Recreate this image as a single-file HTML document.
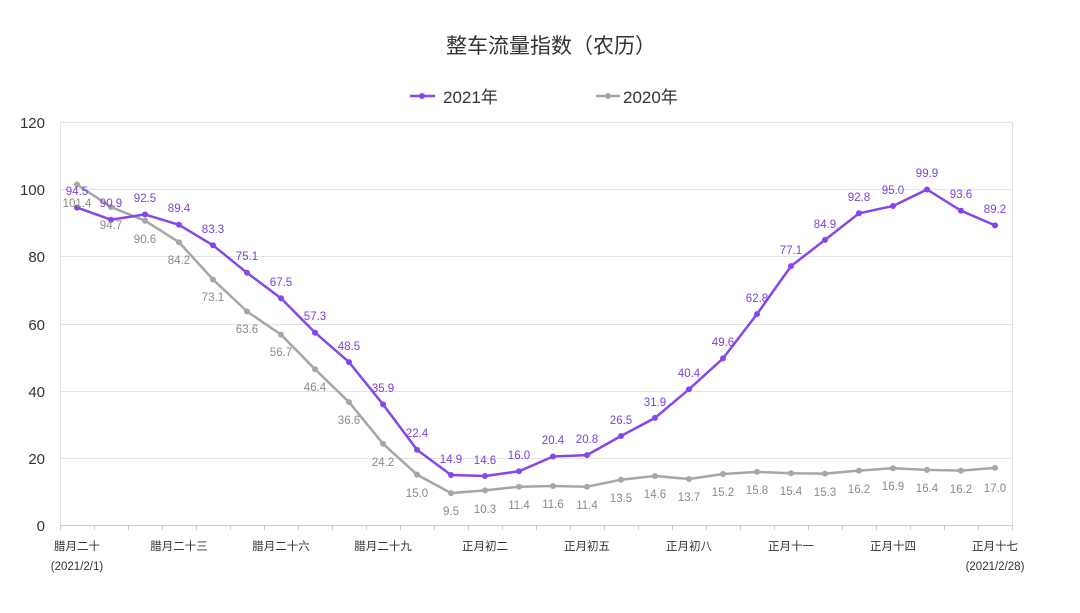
<!DOCTYPE html>
<html><head><meta charset="utf-8"><style>
html,body{margin:0;padding:0;background:#fff}
svg{display:block;font-family:"Liberation Sans","Noto Sans CJK SC",sans-serif}
</style></head><body>
<svg width="1080" height="613" viewBox="0 0 1080 613">
<text x="551" y="53" text-anchor="middle" font-size="21" fill="#333">整车流量指数（农历）</text>
<line x1="410" y1="96" x2="435" y2="96" stroke="#8547e8" stroke-width="2.5"/><circle cx="422" cy="96" r="3" fill="#8547e8"/>
<text x="443" y="103" font-size="17" fill="#333">2021年</text>
<line x1="596" y1="96" x2="620" y2="96" stroke="#a6a6a6" stroke-width="2.5"/><circle cx="608" cy="96" r="3" fill="#a6a6a6"/>
<text x="623" y="103" font-size="17" fill="#333">2020年</text>
<g stroke="#e3e3e3" stroke-width="1">
<line x1="60" y1="122.5" x2="1012" y2="122.5"/><line x1="60" y1="189.5" x2="1012" y2="189.5"/><line x1="60" y1="256.5" x2="1012" y2="256.5"/><line x1="60" y1="324.5" x2="1012" y2="324.5"/><line x1="60" y1="391.5" x2="1012" y2="391.5"/><line x1="60" y1="458.5" x2="1012" y2="458.5"/>
<line x1="60.5" y1="122" x2="60.5" y2="525"/><line x1="1012.5" y1="122" x2="1012.5" y2="525"/>
</g>
<line x1="60" y1="525.5" x2="1012" y2="525.5" stroke="#ccc"/>
<g stroke="#ccc" id="ticks">
<line x1="60.5" y1="525" x2="60.5" y2="530"/><line x1="94.5" y1="525" x2="94.5" y2="530"/><line x1="128.5" y1="525" x2="128.5" y2="530"/><line x1="162.5" y1="525" x2="162.5" y2="530"/><line x1="196.5" y1="525" x2="196.5" y2="530"/><line x1="230.5" y1="525" x2="230.5" y2="530"/><line x1="264.5" y1="525" x2="264.5" y2="530"/><line x1="298.5" y1="525" x2="298.5" y2="530"/><line x1="332.5" y1="525" x2="332.5" y2="530"/><line x1="366.5" y1="525" x2="366.5" y2="530"/><line x1="400.5" y1="525" x2="400.5" y2="530"/><line x1="434.5" y1="525" x2="434.5" y2="530"/><line x1="468.5" y1="525" x2="468.5" y2="530"/><line x1="502.5" y1="525" x2="502.5" y2="530"/><line x1="536.5" y1="525" x2="536.5" y2="530"/><line x1="570.5" y1="525" x2="570.5" y2="530"/><line x1="604.5" y1="525" x2="604.5" y2="530"/><line x1="638.5" y1="525" x2="638.5" y2="530"/><line x1="672.5" y1="525" x2="672.5" y2="530"/><line x1="706.5" y1="525" x2="706.5" y2="530"/><line x1="740.5" y1="525" x2="740.5" y2="530"/><line x1="774.5" y1="525" x2="774.5" y2="530"/><line x1="808.5" y1="525" x2="808.5" y2="530"/><line x1="842.5" y1="525" x2="842.5" y2="530"/><line x1="876.5" y1="525" x2="876.5" y2="530"/><line x1="910.5" y1="525" x2="910.5" y2="530"/><line x1="944.5" y1="525" x2="944.5" y2="530"/><line x1="978.5" y1="525" x2="978.5" y2="530"/><line x1="1012.5" y1="525" x2="1012.5" y2="530"/>
</g>
<g font-size="15" fill="#333" text-anchor="end">
<text x="45" y="128">120</text><text x="45" y="195">100</text><text x="45" y="262">80</text><text x="45" y="330">60</text><text x="45" y="397">40</text><text x="45" y="464">20</text><text x="45" y="531">0</text>
</g>
<g font-size="11.5" fill="#333" text-anchor="middle">
<text x="77" y="550">腊月二十</text><text x="179" y="550">腊月二十三</text><text x="281" y="550">腊月二十六</text><text x="383" y="550">腊月二十九</text><text x="485" y="550">正月初二</text><text x="587" y="550">正月初五</text><text x="689" y="550">正月初八</text><text x="791" y="550">正月十一</text><text x="893" y="550">正月十四</text><text x="995" y="550">正月十七</text>
<text x="77" y="570">(2021/2/1)</text><text x="995" y="570">(2021/2/28)</text>
</g>
<polyline fill="none" stroke="#a6a6a6" stroke-width="2.5" stroke-linejoin="round" points="77,184.5 111,207 145,220.7 179,242.2 213,279.5 247,311.4 281,334.6 315,369.2 349,402.1 383,443.7 417,474.6 451,493.1 485,490.4 519,486.7 553,486 587,486.7 621,479.7 655,476 689,479 723,474 757,471.9 791,473.3 825,473.6 859,470.6 893,468.2 927,469.9 961,470.6 995,467.9"/>
<g fill="#a6a6a6">
<circle cx="77" cy="184.5" r="3"/><circle cx="111" cy="207" r="3"/><circle cx="145" cy="220.7" r="3"/><circle cx="179" cy="242.2" r="3"/><circle cx="213" cy="279.5" r="3"/><circle cx="247" cy="311.4" r="3"/><circle cx="281" cy="334.6" r="3"/><circle cx="315" cy="369.2" r="3"/><circle cx="349" cy="402.1" r="3"/><circle cx="383" cy="443.7" r="3"/><circle cx="417" cy="474.6" r="3"/><circle cx="451" cy="493.1" r="3"/><circle cx="485" cy="490.4" r="3"/><circle cx="519" cy="486.7" r="3"/><circle cx="553" cy="486" r="3"/><circle cx="587" cy="486.7" r="3"/><circle cx="621" cy="479.7" r="3"/><circle cx="655" cy="476" r="3"/><circle cx="689" cy="479" r="3"/><circle cx="723" cy="474" r="3"/><circle cx="757" cy="471.9" r="3"/><circle cx="791" cy="473.3" r="3"/><circle cx="825" cy="473.6" r="3"/><circle cx="859" cy="470.6" r="3"/><circle cx="893" cy="468.2" r="3"/><circle cx="927" cy="469.9" r="3"/><circle cx="961" cy="470.6" r="3"/><circle cx="995" cy="467.9" r="3"/>
</g>
<polyline fill="none" stroke="#8547e8" stroke-width="2.5" stroke-linejoin="round" points="77,207.6 111,219.7 145,214.4 179,224.8 213,245.3 247,272.8 281,298.3 315,332.6 349,362.1 383,404.4 417,449.8 451,475 485,476 519,471.3 553,456.5 587,455.1 621,436 655,417.9 689,389.3 723,358.4 757,314.1 791,266.1 825,239.9 859,213.3 893,206 927,189.5 961,210.7 995,225.4"/>
<g fill="#8547e8">
<circle cx="77" cy="207.6" r="3"/><circle cx="111" cy="219.7" r="3"/><circle cx="145" cy="214.4" r="3"/><circle cx="179" cy="224.8" r="3"/><circle cx="213" cy="245.3" r="3"/><circle cx="247" cy="272.8" r="3"/><circle cx="281" cy="298.3" r="3"/><circle cx="315" cy="332.6" r="3"/><circle cx="349" cy="362.1" r="3"/><circle cx="383" cy="404.4" r="3"/><circle cx="417" cy="449.8" r="3"/><circle cx="451" cy="475" r="3"/><circle cx="485" cy="476" r="3"/><circle cx="519" cy="471.3" r="3"/><circle cx="553" cy="456.5" r="3"/><circle cx="587" cy="455.1" r="3"/><circle cx="621" cy="436" r="3"/><circle cx="655" cy="417.9" r="3"/><circle cx="689" cy="389.3" r="3"/><circle cx="723" cy="358.4" r="3"/><circle cx="757" cy="314.1" r="3"/><circle cx="791" cy="266.1" r="3"/><circle cx="825" cy="239.9" r="3"/><circle cx="859" cy="213.3" r="3"/><circle cx="893" cy="206" r="3"/><circle cx="927" cy="189.5" r="3"/><circle cx="961" cy="210.7" r="3"/><circle cx="995" cy="225.4" r="3"/>
</g>
<g font-size="11.5" fill="#8a8a8a" text-anchor="middle">
<text x="77" y="207">101.4</text><text x="111" y="229">94.7</text><text x="145" y="243">90.6</text><text x="179" y="264">84.2</text><text x="213" y="301">73.1</text><text x="247" y="333">63.6</text><text x="281" y="356">56.7</text><text x="315" y="391">46.4</text><text x="349" y="424">36.6</text><text x="383" y="466">24.2</text><text x="417" y="497">15.0</text><text x="451" y="515">9.5</text><text x="485" y="513">10.3</text><text x="519" y="509">11.4</text><text x="553" y="508">11.6</text><text x="587" y="509">11.4</text><text x="621" y="502">13.5</text><text x="655" y="498">14.6</text><text x="689" y="501">13.7</text><text x="723" y="496">15.2</text><text x="757" y="494">15.8</text><text x="791" y="495">15.4</text><text x="825" y="496">15.3</text><text x="859" y="493">16.2</text><text x="893" y="490">16.9</text><text x="927" y="492">16.4</text><text x="961" y="493">16.2</text><text x="995" y="492">17.0</text>
</g>
<g font-size="11.5" fill="#7b3fe4" text-anchor="middle">
<text x="77" y="195">94.5</text><text x="111" y="207">90.9</text><text x="145" y="202">92.5</text><text x="179" y="212">89.4</text><text x="213" y="233">83.3</text><text x="247" y="260">75.1</text><text x="281" y="286">67.5</text><text x="315" y="320">57.3</text><text x="349" y="350">48.5</text><text x="383" y="392">35.9</text><text x="417" y="437">22.4</text><text x="451" y="463">14.9</text><text x="485" y="464">14.6</text><text x="519" y="459">16.0</text><text x="553" y="444">20.4</text><text x="587" y="443">20.8</text><text x="621" y="424">26.5</text><text x="655" y="406">31.9</text><text x="689" y="377">40.4</text><text x="723" y="346">49.6</text><text x="757" y="302">62.8</text><text x="791" y="254">77.1</text><text x="825" y="228">84.9</text><text x="859" y="201">92.8</text><text x="893" y="194">95.0</text><text x="927" y="177">99.9</text><text x="961" y="198">93.6</text><text x="995" y="213">89.2</text>
</g>
</svg>
</body></html>
